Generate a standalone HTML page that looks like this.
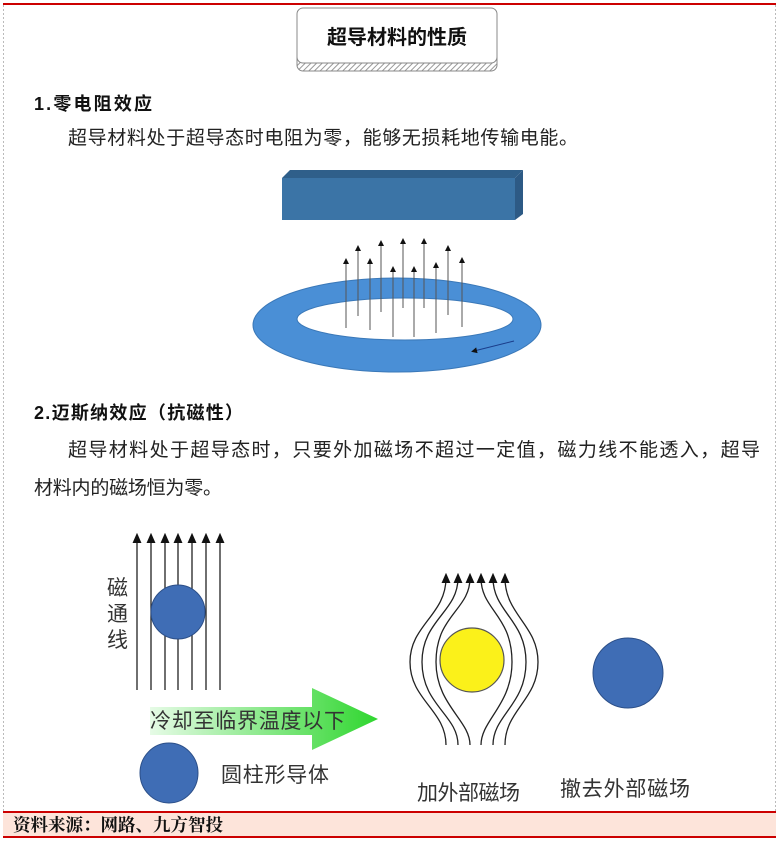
<!DOCTYPE html>
<html><head><meta charset="utf-8"><style>
body{margin:0;background:#fff;}
svg{display:block;font-family:"Liberation Sans","Noto Sans CJK SC",sans-serif;}
</style></head><body>
<svg width="779" height="841" viewBox="0 0 779 841" xmlns="http://www.w3.org/2000/svg">
<defs>
<pattern id="h" width="4" height="4" patternUnits="userSpaceOnUse" patternTransform="rotate(45)"><rect width="4" height="4" fill="#fff"/><line x1="0" y1="0" x2="0" y2="4" stroke="#999" stroke-width="2"/></pattern>
<marker id="a" markerWidth="6" markerHeight="6" refX="3" refY="3" orient="auto"><path d="M0,0L6,3L0,6z" fill="#111"/></marker>
<marker id="b" markerWidth="8" markerHeight="8" refX="4" refY="4" orient="auto"><path d="M0,0.5L8,4L0,7.5z" fill="#111"/></marker>
<linearGradient id="g" x1="0" x2="1"><stop offset="0" stop-color="#e6fbe6"/><stop offset="1" stop-color="#2fd62f"/></linearGradient>
</defs>
<line x1="3.5" y1="5" x2="3.5" y2="812" stroke="#bbb" stroke-dasharray="2,2"/>
<line x1="775.5" y1="5" x2="775.5" y2="812" stroke="#bbb" stroke-dasharray="2,2"/>
<rect x="3" y="3" width="773" height="2" fill="#c00"/>
<rect x="297" y="12" width="200" height="59" rx="6" fill="url(#h)" stroke="#888"/>
<rect x="297" y="8" width="200" height="55" rx="6" fill="#fff" stroke="#888"/>
<text x="397" y="44" font-size="20" font-weight="bold" text-anchor="middle" fill="#111">超导材料的性质</text>
<text x="34" y="110" font-size="18" font-weight="bold" fill="#111" textLength="118">1.零电阻效应</text>
<text x="68" y="144" font-size="19" fill="#222" textLength="510">超导材料处于超导态时电阻为零，能够无损耗地传输电能。</text>
<path d="M282,178L290,170L523,170L515,178z" fill="#2f5f8a"/>
<path d="M515,178L523,170L523,214L515,220z" fill="#2d5a85"/>
<rect x="282" y="178" width="233" height="42" fill="#3b74a6"/>
<path fill-rule="evenodd" fill="#4a8fd6" stroke="#3a78b8" d="M253,325a144,47 0 1,0 288,0a144,47 0 1,0 -288,0z M297,319a108,21 0 1,0 216,0a108,21 0 1,0 -216,0z"/>
<g stroke="#555" stroke-width="1" marker-end="url(#a)">
<line x1="346" y1="328" x2="346" y2="261"/><line x1="358" y1="316" x2="358" y2="248"/>
<line x1="370" y1="330" x2="370" y2="261"/><line x1="381" y1="312" x2="381" y2="243"/>
<line x1="393" y1="337" x2="393" y2="269"/><line x1="403" y1="308" x2="403" y2="241"/>
<line x1="414" y1="337" x2="414" y2="269"/><line x1="424" y1="308" x2="424" y2="241"/>
<line x1="436" y1="333" x2="436" y2="265"/><line x1="448" y1="315" x2="448" y2="248"/>
<line x1="462" y1="327" x2="462" y2="260"/>
<line x1="514" y1="341" x2="474" y2="351" stroke="#1a3c8a"/>
</g>
<text x="34" y="419" font-size="18" font-weight="bold" fill="#111" textLength="209">2.迈斯纳效应（抗磁性）</text>
<text x="68" y="456" font-size="19" fill="#222" textLength="692">超导材料处于超导态时，只要外加磁场不超过一定值，磁力线不能透入，超导</text>
<text x="34" y="494" font-size="19" fill="#222" textLength="188">材料内的磁场恒为零。</text>
<g stroke="#222" stroke-width="1.3" marker-end="url(#b)">
<line x1="137" y1="690" x2="137" y2="538"/><line x1="151" y1="690" x2="151" y2="538"/>
<line x1="165" y1="690" x2="165" y2="538"/><line x1="178" y1="690" x2="178" y2="538"/>
<line x1="192" y1="690" x2="192" y2="538"/><line x1="206" y1="690" x2="206" y2="538"/>
<line x1="220" y1="690" x2="220" y2="538"/>
</g>
<circle cx="178" cy="612" r="27" fill="#3f6db5" stroke="#2c4f88"/>
<text font-size="21" fill="#333"><tspan x="107" y="595">磁</tspan><tspan x="107" y="621">通</tspan><tspan x="107" y="647">线</tspan></text>
<path d="M150,707L312,707L312,688L378,719L312,750L312,735L150,735z" fill="url(#g)"/>
<text x="150" y="728" font-size="21" fill="#333" textLength="195">冷却至临界温度以下</text>
<ellipse cx="169" cy="773" rx="29" ry="30" fill="#3f6db5" stroke="#2c4f88"/>
<text x="221" y="782" font-size="21" fill="#333" textLength="108">圆柱形导体</text>
<g fill="none" stroke="#222" stroke-width="1.3" marker-end="url(#b)">
<path d="M446,745C446,710 410,700 410,662C410,625 446,615 446,578"/>
<path d="M458,745C458,715 422,705 422,662C422,620 458,612 458,578"/>
<path d="M470,745C470,720 436,705 436,662C436,615 470,610 470,578"/>
<path d="M481,745C481,720 512,705 512,662C512,615 481,610 481,578"/>
<path d="M493,745C493,715 526,705 526,662C526,620 493,612 493,578"/>
<path d="M505,745C505,710 538,700 538,662C538,625 505,615 505,578"/>
</g>
<circle cx="472" cy="660" r="32" fill="#fbf11a" stroke="#555" stroke-width="1.2"/>
<ellipse cx="628" cy="673" rx="35" ry="35" fill="#3f6db5" stroke="#2c4f88"/>
<text x="417" y="800" font-size="21" fill="#333" textLength="103">加外部磁场</text>
<text x="560" y="796" font-size="21" fill="#333" textLength="130">撤去外部磁场</text>
<rect x="3" y="812" width="773" height="25" fill="#fde4da"/>
<rect x="3" y="811" width="773" height="2" fill="#c00"/>
<rect x="3" y="836" width="773" height="2" fill="#c00"/>
<text x="13" y="831" font-size="17.5" font-weight="bold" font-family="'Liberation Serif','Noto Serif CJK SC',serif" fill="#111">资料来源：网路、九方智投</text>
</svg>
</body></html>
